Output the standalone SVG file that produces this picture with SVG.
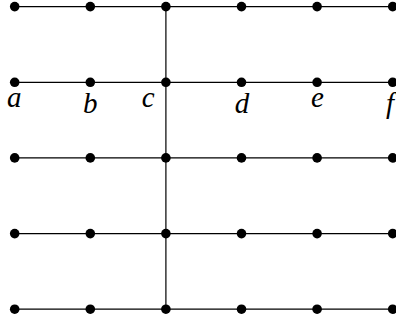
<svg xmlns="http://www.w3.org/2000/svg" width="396" height="321" viewBox="0 0 396 321">
<style>
.ln{stroke:#000;stroke-width:1.2;fill:none}
.dot{fill:#000}
.lbl{font-family:"Liberation Serif","DejaVu Serif",serif;font-style:italic;font-size:29px;fill:#000;text-anchor:middle}
</style>
<defs><circle id="d" r="4.8" class="dot"/></defs>
<rect width="396" height="321" fill="#fff"/>
<g id="connectors">
<line class="ln" x1="14.7" y1="6.6" x2="392.7" y2="6.6"/>
<line class="ln" x1="14.7" y1="82.3" x2="392.7" y2="82.3"/>
<line class="ln" x1="14.7" y1="157.9" x2="392.7" y2="157.9"/>
<line class="ln" x1="14.7" y1="233.6" x2="392.7" y2="233.6"/>
<line class="ln" x1="14.7" y1="309.2" x2="392.7" y2="309.2"/>
<line class="ln" x1="165.9" y1="6.6" x2="165.9" y2="309.2"/>
</g>
<g id="row1">
<use href="#d" x="14.7" y="6.6"/><use href="#d" x="90.3" y="6.6"/><use href="#d" x="165.9" y="6.6"/><use href="#d" x="241.5" y="6.6"/><use href="#d" x="317.1" y="6.6"/><use href="#d" x="392.7" y="6.6"/>
</g>
<g id="node-a"><use href="#d" x="14.7" y="82.3"/><text class="lbl" x="14.3" y="106.5">a</text></g>
<g id="node-b"><use href="#d" x="90.3" y="82.3"/><text class="lbl" x="90.3" y="112.5">b</text></g>
<g id="node-c"><use href="#d" x="165.9" y="82.3"/><text class="lbl" x="148.3" y="106.5">c</text></g>
<g id="node-d"><use href="#d" x="241.5" y="82.3"/><text class="lbl" x="242" y="112.5">d</text></g>
<g id="node-e"><use href="#d" x="317.1" y="82.3"/><text class="lbl" x="317.5" y="106.5">e</text></g>
<g id="node-f"><use href="#d" x="392.7" y="82.3"/><text class="lbl" x="390" y="112.5">f</text></g>
<g id="row3">
<use href="#d" x="14.7" y="157.9"/><use href="#d" x="90.3" y="157.9"/><use href="#d" x="165.9" y="157.9"/><use href="#d" x="241.5" y="157.9"/><use href="#d" x="317.1" y="157.9"/><use href="#d" x="392.7" y="157.9"/>
</g>
<g id="row4">
<use href="#d" x="14.7" y="233.6"/><use href="#d" x="90.3" y="233.6"/><use href="#d" x="165.9" y="233.6"/><use href="#d" x="241.5" y="233.6"/><use href="#d" x="317.1" y="233.6"/><use href="#d" x="392.7" y="233.6"/>
</g>
<g id="row5">
<use href="#d" x="14.7" y="309.2"/><use href="#d" x="90.3" y="309.2"/><use href="#d" x="165.9" y="309.2"/><use href="#d" x="241.5" y="309.2"/><use href="#d" x="317.1" y="309.2"/><use href="#d" x="392.7" y="309.2"/>
</g>
</svg>
